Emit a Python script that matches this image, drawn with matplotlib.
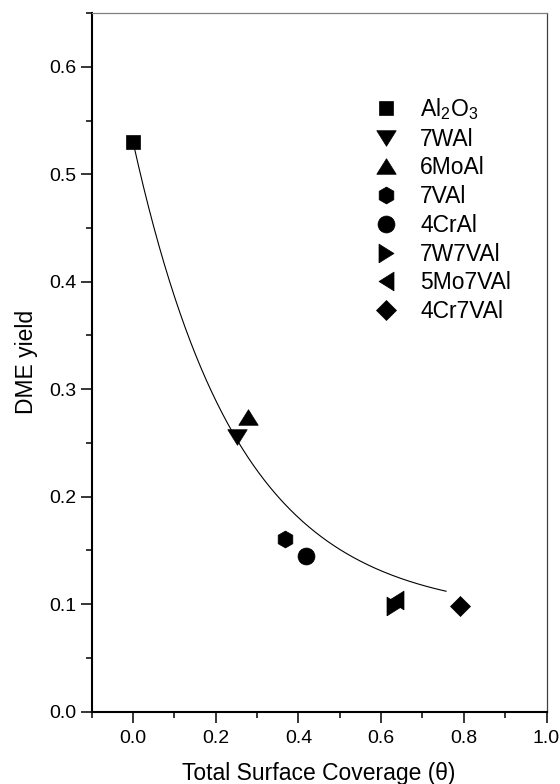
import numpy as np
import matplotlib
matplotlib.use("Agg")
import matplotlib.pyplot as plt
from matplotlib.ticker import MultipleLocator, FormatStrFormatter

plt.rcParams['font.family'] = ['Liberation Sans', 'DejaVu Sans']
plt.rcParams['mathtext.fontset'] = 'custom'
plt.rcParams['mathtext.rm'] = 'Liberation Sans'
plt.rcParams['mathtext.it'] = 'Liberation Sans:italic'

# Catalysts: total surface coverage vs DME yield
catalysts = [r'$\mathregular{Al_2O_3}$', '7WAl', '6MoAl', '7VAl',
             '4CrAl', '7W7VAl', '5Mo7VAl', '4Cr7VAl']
coverage = [0.000, 0.251, 0.279, 0.367, 0.419, 0.630, 0.637, 0.790]
dme_yield = [0.530, 0.256, 0.274, 0.161, 0.145, 0.098, 0.104, 0.098]

# Exponential decay fit: y = y0 + A * exp(-x / t)
fit_y0 = 0.090
fit_A = 0.440
fit_t = 0.253
fit_x_range = (0.0, 0.757)

# Wide, flat triangles for the W/Mo-based samples
tri_down = [(-1.0, 0.8), (1.0, 0.8), (0.0, -0.8), (-1.0, 0.8)]
tri_up = [(-1.0, -0.8), (1.0, -0.8), (0.0, 0.8), (-1.0, -0.8)]
tri_right = [(-0.8, -1.0), (-0.8, 1.0), (0.8, 0.0), (-0.8, -1.0)]
tri_left = [(0.8, -1.0), (0.8, 1.0), (-0.8, 0.0), (0.8, -1.0)]

marker_styles = [
    dict(marker='s', ms=10.3),
    dict(marker=tri_down, ms=14.0),
    dict(marker=tri_up, ms=14.0),
    dict(marker='h', ms=12.2),
    dict(marker='o', ms=12.2),
    dict(marker=tri_right, ms=13.5),
    dict(marker=tri_left, ms=13.5),
    dict(marker='D', ms=10.0),
]

fig = plt.figure(figsize=(5.6, 7.84), dpi=100)
ax = fig.add_axes([0.1638, 0.0922, 0.9759 - 0.1638, 0.9834 - 0.0922])

xf = np.linspace(fit_x_range[0], fit_x_range[1], 300)
ax.plot(xf, fit_y0 + fit_A * np.exp(-xf / fit_t), color='black', lw=0.8, zorder=2)

for lab, xv, yv, st in zip(catalysts, coverage, dme_yield, marker_styles):
    ax.plot([xv], [yv], linestyle='none', color='black', mec='black',
            mew=0.5, label=lab, zorder=3, **st)

ax.set_xlim(-0.1, 1.0)
ax.set_ylim(0.0, 0.65)
ax.xaxis.set_major_locator(MultipleLocator(0.2))
ax.xaxis.set_minor_locator(MultipleLocator(0.1))
ax.yaxis.set_major_locator(MultipleLocator(0.1))
ax.yaxis.set_minor_locator(MultipleLocator(0.05))
ax.xaxis.set_major_formatter(FormatStrFormatter('%.1f'))
ax.yaxis.set_major_formatter(FormatStrFormatter('%.1f'))

ax.tick_params(which='both', direction='out', top=False, right=False,
               width=1.1, labelsize=14)
ax.tick_params(axis='y', pad=3.5)
ax.tick_params(axis='x', pad=5.5)
ax.tick_params(which='major', length=7.7)
ax.tick_params(which='minor', length=4.0)

for side in ('left', 'bottom'):
    ax.spines[side].set_linewidth(1.5)
    ax.spines[side].set_color('black')
ax.spines['top'].set_linewidth(0.9)
ax.spines['top'].set_color('0.5')
ax.spines['right'].set_linewidth(0.9)
ax.spines['right'].set_color('0.25')

ax.set_xlabel(u'Total Surface Coverage (\u03b8)', fontsize=16.5, labelpad=11)
ax.set_ylabel('DME yield', fontsize=16.5, labelpad=8)

ax.legend(loc='upper left', bbox_to_anchor=(372 / 560, 1 - 96 / 784),
          bbox_transform=fig.transFigure, frameon=False, fontsize=16.5,
          numpoints=1, handlelength=1.2, handletextpad=0.9,
          labelspacing=0.25, borderpad=0, borderaxespad=0)

fig.savefig('out.png', dpi=100)
